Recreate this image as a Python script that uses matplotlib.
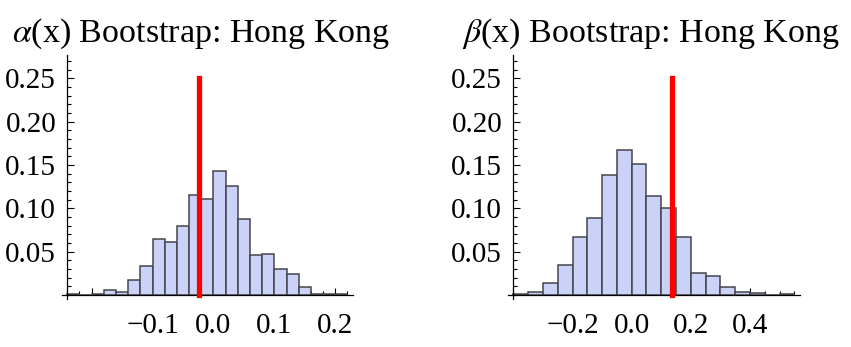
import numpy as np
import matplotlib.pyplot as plt
from matplotlib.ticker import MultipleLocator, FixedLocator, FixedFormatter

plt.rcParams['font.family'] = ['Liberation Serif', 'DejaVu Serif']
plt.rcParams['mathtext.fontset'] = 'stix'
plt.rcParams['axes.unicode_minus'] = True

# Bootstrap histograms (bin probabilities), Hong Kong
alpha_bin_lo = -0.24
alpha_bin_width = 0.02
alpha_probs = [0.001, 0.0, 0.001, 0.006, 0.004, 0.018, 0.034, 0.065, 0.061, 0.080,
               0.116, 0.111, 0.143, 0.126, 0.088, 0.046, 0.048, 0.030, 0.024, 0.009,
               0.001, 0.001, 0.001]
alpha_estimate = -0.023

beta_bin_lo = -0.40
beta_bin_width = 0.05
beta_probs = [0.001, 0.004, 0.014, 0.035, 0.067, 0.089, 0.139, 0.168, 0.151, 0.114,
              0.101, 0.067, 0.025, 0.022, 0.009, 0.004, 0.002, 0.0, 0.001]
beta_estimate = 0.135

alpha_xmajor = [-0.2, -0.1, 0.0, 0.1, 0.2]
alpha_xlabels = ['', '\u22120.1', '0.0', '0.1', '0.2']
beta_xmajor = [-0.4, -0.2, 0.0, 0.2, 0.4]
beta_xlabels = ['', '\u22120.2', '0.0', '0.2', '0.4']
ymajor = [0.05, 0.10, 0.15, 0.20, 0.25]
ylabels = ['0.05', '0.10', '0.15', '0.20', '0.25']

bar_face = '#cbd2f7'
bar_edge = '#45454d'


def draw_panel(ax, lo, width, probs, estimate, xmajor, xlabels, xminor):
    probs = np.asarray(probs)
    lefts = lo + width * np.arange(len(probs))
    hi = lefts[-1] + width
    pad = 0.02 * (hi - lo)
    ax.bar(lefts, probs, width=width, align='edge', color=bar_face,
           edgecolor=bar_edge, linewidth=1.1, zorder=2)
    ax.plot([estimate, estimate], [0, 0.25], color='#ff0000', lw=3.8,
            solid_capstyle='projecting', zorder=4)
    ax.set_xlim(lo - pad, hi + pad)
    ax.set_ylim(-0.005, 0.277)

    for s in ['top', 'right']:
        ax.spines[s].set_visible(False)
    ax.spines['left'].set_position(('data', lo))
    ax.spines['bottom'].set_position(('data', 0))
    for s in ['left', 'bottom']:
        ax.spines[s].set_linewidth(0.9)
        ax.spines[s].set_zorder(3)

    ax.xaxis.set_major_locator(FixedLocator(xmajor))
    ax.xaxis.set_major_formatter(FixedFormatter(xlabels))
    ax.xaxis.set_minor_locator(MultipleLocator(xminor))
    ax.yaxis.set_major_locator(FixedLocator(ymajor))
    ax.yaxis.set_major_formatter(FixedFormatter(ylabels))
    ax.yaxis.set_minor_locator(MultipleLocator(0.01))

    ax.tick_params(which='both', direction='in', width=0.8, labelsize=21)
    ax.tick_params(which='major', length=5)
    ax.tick_params(which='minor', length=3)
    ax.tick_params(axis='x', which='major', pad=13)
    ax.tick_params(axis='y', which='major', pad=8)


fig = plt.figure(figsize=(8.51, 3.47), dpi=100)
ax1 = fig.add_axes([0.0725, 0.1369, 0.3423, 0.7046])
ax2 = fig.add_axes([0.5966, 0.1369, 0.3435, 0.7046])

draw_panel(ax1, alpha_bin_lo, alpha_bin_width, alpha_probs, alpha_estimate,
           alpha_xmajor, alpha_xlabels, 0.02)
draw_panel(ax2, beta_bin_lo, beta_bin_width, beta_probs, beta_estimate,
           beta_xmajor, beta_xlabels, 0.05)

fig.text(201 / 851, 1 - 41.7 / 347, r'$\alpha$(x) Bootstrap: Hong Kong',
         ha='center', va='baseline', fontsize=24.5)
fig.text(651 / 851, 1 - 41.7 / 347, r'$\beta$(x) Bootstrap: Hong Kong',
         ha='center', va='baseline', fontsize=24.5)

fig.savefig('out.png', dpi=100)
